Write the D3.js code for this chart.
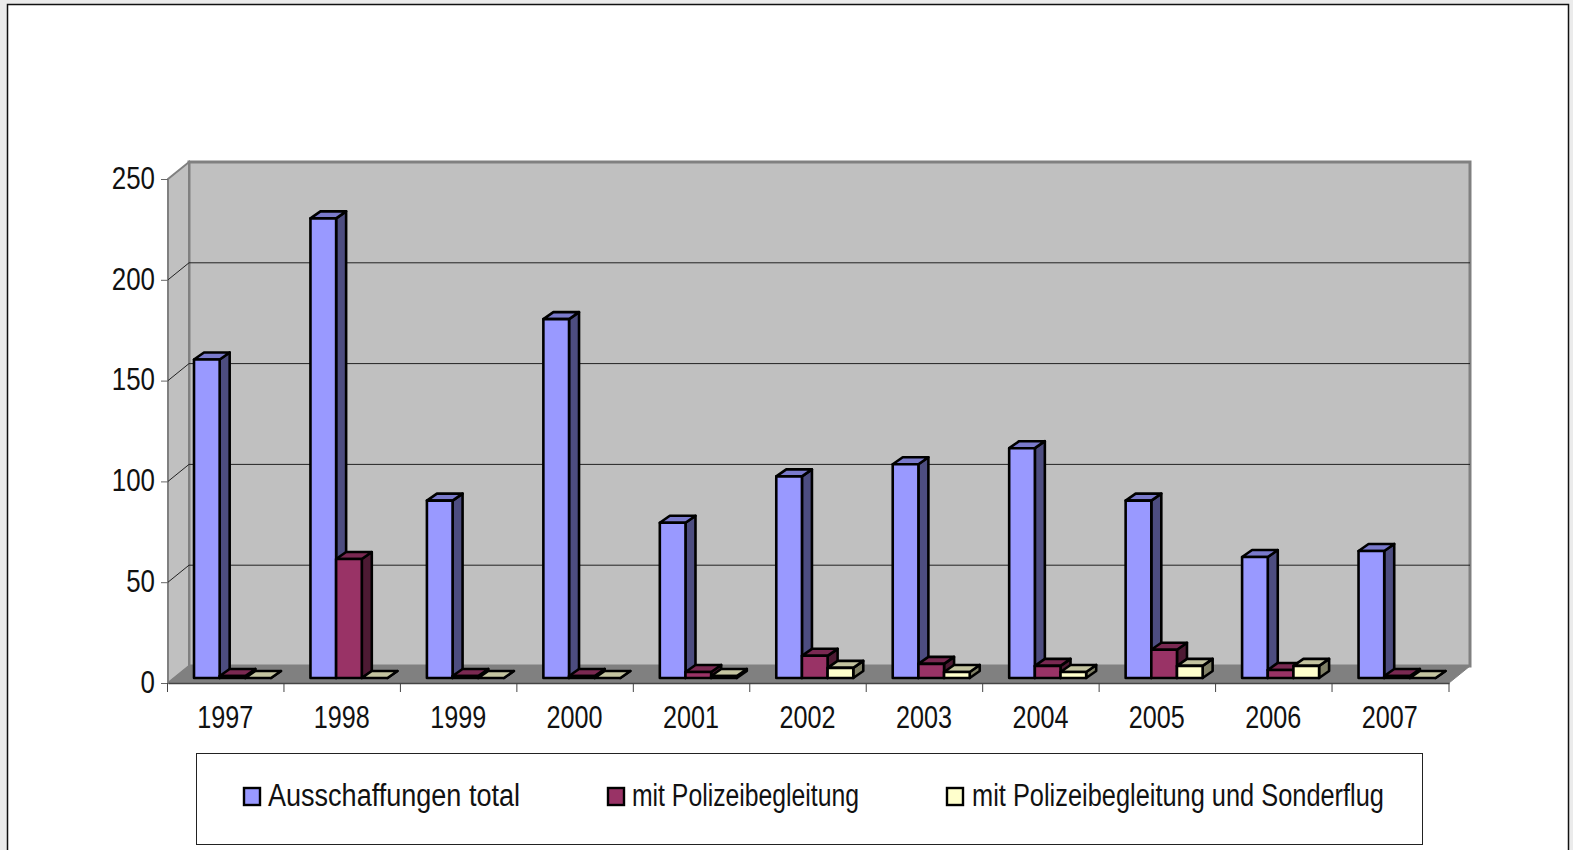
<!DOCTYPE html>
<html>
<head>
<meta charset="utf-8">
<script src="https://cdn.jsdelivr.net/npm/d3@7"></script>
<style>
  html, body { margin: 0; padding: 0; background: #ebebeb; overflow: hidden; }
  text { font-family: "Liberation Sans", Arial, sans-serif; fill: #111; }
</style>
</head>
<body>
<script>
const years = ['1997','1998','1999','2000','2001','2002','2003','2004','2005','2006','2007'];
const seriesNames = ['Ausschaffungen total', 'mit Polizeibegleitung', 'mit Polizeibegleitung und Sonderflug'];
const total = [158, 228, 88, 178, 77, 100, 106, 114, 88, 60, 63];
const polizei = [1, 59, 1, 1, 3, 11, 7, 6, 14, 4, 1];
const sonderflug = [0, 0, 0, 0, 1, 5, 3, 3, 6, 6, 0];
const yTicks = [0, 50, 100, 150, 200, 250];

const frontFill = ['#9999ff', '#993366', '#ffffcc'];
const sideFill = ['#4d4d80', '#4d1a33', '#808066'];
const topFill = ['#7a7acc', '#7a2952', '#c4c4a0'];

const width = 1573, height = 850;
const left = 168, right = 1449, floorFront = 683, topFront = 179;
const wallDx = 21, wallDy = -17;
const barDx = 10, barDy = -7;
const barBase = 678;

const svg = d3.select('body').append('svg')
  .attr('width', width)
  .attr('height', height)
  .style('display', 'block');

// page frame
svg.append('rect')
  .attr('x', 7.5).attr('y', 4.5)
  .attr('width', 1561).attr('height', 900)
  .attr('fill', 'white').attr('stroke', '#111').attr('stroke-width', 1.5);

let x = d3.scaleBand().domain(years).range([left, right]);
let xSeries = d3.scaleBand().domain(seriesNames).range([26, 103]);
let y = d3.scaleLinear().domain([0, 250]).range([floorFront, topFront]);
let barY = d3.scaleLinear().domain([0, 250]).range([barBase, barBase - 504]);

const poly = pts => pts.map(p => p.join(',')).join(' ');

// walls and floor
svg.append('polygon')
  .attr('points', poly([[left + wallDx, y(250) + wallDy], [right + wallDx, y(250) + wallDy],
    [right + wallDx, y(0) + wallDy], [left + wallDx, y(0) + wallDy]]))
  .attr('fill', '#c0c0c0').attr('stroke', '#808080').attr('stroke-width', 3);
svg.append('polygon')
  .attr('points', poly([[left, y(250)], [left + wallDx, y(250) + wallDy],
    [left + wallDx, y(0) + wallDy], [left, y(0)]]))
  .attr('fill', '#c0c0c0').attr('stroke', '#808080').attr('stroke-width', 2);
svg.append('polygon')
  .attr('points', poly([[left, y(0)], [left + wallDx, y(0) + wallDy],
    [right + wallDx, y(0) + wallDy], [right, y(0)]]))
  .attr('fill', '#808080').attr('stroke', '#808080');

// gridlines on back and side wall
svg.append('g').selectAll('polyline')
  .data(yTicks.filter(d => d > 0 && d < 250))
  .join('polyline')
    .attr('points', d => poly([[left, y(d)], [left + wallDx, y(d) + wallDy], [right + wallDx, y(d) + wallDy]]))
    .attr('fill', 'none').attr('stroke', '#222').attr('stroke-width', 1);

// bars
const values = [total, polizei, sonderflug];
seriesNames.forEach((name, s) => {
  values[s].forEach((v, i) => {
    const x0 = x(years[i]) + xSeries(name);
    const x1 = x0 + xSeries.bandwidth();
    const yT = barY(v);
    const g = svg.append('g')
      .attr('stroke', '#000').attr('stroke-width', 2.6).attr('stroke-linejoin', 'round');
    g.append('polygon')
      .attr('points', poly([[x1, yT], [x1 + barDx, yT + barDy], [x1 + barDx, barBase + barDy], [x1, barBase]]))
      .attr('fill', sideFill[s]);
    g.append('polygon')
      .attr('points', poly([[x0, yT], [x0 + barDx, yT + barDy], [x1 + barDx, yT + barDy], [x1, yT]]))
      .attr('fill', topFill[s]);
    g.append('rect')
      .attr('x', x0).attr('y', yT)
      .attr('width', x1 - x0).attr('height', barBase - yT)
      .attr('fill', frontFill[s]);
  });
});

// axes
let yAxis = d3.axisLeft(y).tickValues(yTicks).tickSize(7).tickPadding(6);
let xAxis = d3.axisBottom(x).tickSize(0).tickPadding(23);

svg.append('g')
  .attr('transform', `translate(${left},0)`)
  .call(yAxis)
  .call(g => g.select('.domain').remove())
  .call(g => g.selectAll('line').attr('stroke', '#666'))
  .call(g => g.selectAll('text')
    .attr('font-size', 31)
    .attr('textLength', d => String(d).length * 14.4)
    .attr('lengthAdjust', 'spacingAndGlyphs')
    .attr('dy', '0.3em'));

svg.append('g')
  .attr('transform', `translate(0,${floorFront})`)
  .call(xAxis)
  .call(g => g.select('.domain').attr('stroke', '#444').attr('stroke-width', 1.5))
  .call(g => g.selectAll('text')
    .attr('font-size', 31)
    .attr('textLength', 56)
    .attr('lengthAdjust', 'spacingAndGlyphs')
    .attr('dx', -1)
    .attr('dy', '0.71em'))
  .call(g => g.selectAll('.cat-tick')
    .data(x.domain().concat('end'))
    .join('line')
      .attr('class', 'cat-tick')
      .attr('x1', d => d === 'end' ? right : x(d) - 0.5)
      .attr('x2', d => d === 'end' ? right : x(d) - 0.5)
      .attr('y1', 0).attr('y2', 9)
      .attr('stroke', '#444'));

// legend
const legendSwatch = [244, 608, 947];
const legendText = [268, 632, 972];
const legendLen = [252, 227, 412];

svg.append('rect')
  .attr('x', 196.5).attr('y', 753.5)
  .attr('width', 1226).attr('height', 91)
  .attr('fill', 'white').attr('stroke', '#222').attr('stroke-width', 1);

seriesNames.forEach((name, s) => {
  svg.append('rect')
    .attr('x', legendSwatch[s]).attr('y', 788)
    .attr('width', 16).attr('height', 17)
    .attr('fill', frontFill[s]).attr('stroke', '#000').attr('stroke-width', 2.4);
  svg.append('text')
    .attr('x', legendText[s]).attr('y', 806)
    .attr('font-size', 31)
    .attr('textLength', legendLen[s])
    .attr('lengthAdjust', 'spacingAndGlyphs')
    .text(name);
});
</script>
</body>
</html>
